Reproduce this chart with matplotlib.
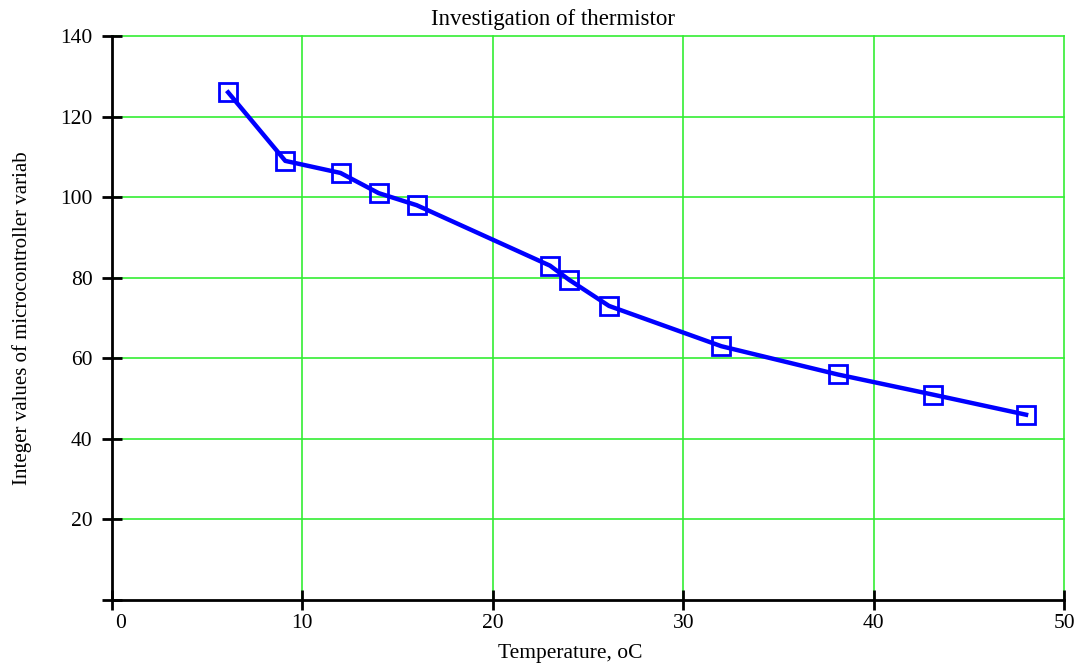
import numpy as np
import matplotlib.pyplot as plt
from matplotlib.transforms import ScaledTranslation

plt.rcParams["font.family"] = ["Liberation Serif", "DejaVu Serif"]

# Measured data: temperature vs. integer variable
temperature = [6.1, 9.1, 12.0, 14.0, 16.0, 23.0, 24.0, 26.1, 32.0, 38.1, 43.1, 48.0]
int_values = [126, 109, 106, 101, 98, 83, 79.5, 73, 63, 56, 51, 46]

x_ticks = [0, 10, 20, 30, 40, 50]
y_ticks = [0, 20, 40, 60, 80, 100, 120, 140]

fig = plt.figure(figsize=(10.82, 6.66), dpi=100)
ax = fig.add_axes([0.1035, 0.099, 0.88, 0.847])

ax.plot(temperature, int_values, color="#0000ff", linewidth=3.2,
        marker="s", markersize=13.5, markerfacecolor="none",
        markeredgecolor="#0000ff", markeredgewidth=2, zorder=3)

ax.set_xlim(0, 50)
ax.set_ylim(0, 140)
ax.set_xticks(x_ticks)
ax.set_yticks(y_ticks)
ax.set_xticklabels([str(v) for v in x_ticks])
ax.set_yticklabels([""] + [str(v) for v in y_ticks[1:]])

# green grid, not on the axes themselves
for xv in x_ticks[1:]:
    ax.axvline(xv, color="#33ee33", linewidth=1.2, zorder=1, clip_on=False)
for yv in y_ticks[1:]:
    ax.axhline(yv, color="#33ee33", linewidth=1.2, zorder=1, clip_on=False)

for side in ["top", "right"]:
    ax.spines[side].set_visible(False)
for side in ["left", "bottom"]:
    ax.spines[side].set_linewidth(2)
    ax.spines[side].set_zorder(4)

ax.tick_params(direction="inout", length=14, width=2, labelsize=15.5)
ax.tick_params(axis="y", pad=7)
ax.tick_params(axis="x", pad=3)

# the "0" label sits a little to the right
lbl0 = ax.get_xticklabels()[0]
lbl0.set_transform(lbl0.get_transform() + ScaledTranslation(0.09, 0, fig.dpi_scale_trans))

ax.set_title("Investigation of thermistor", fontsize=16.5, x=0.463, pad=8)
ax.set_xlabel("Temperature, oC", fontsize=15.5, labelpad=8, x=0.481)
ax.set_ylabel("Integer values of microcontroller variab", fontsize=15,
              labelpad=20)

fig.savefig("out.png", dpi=100)
